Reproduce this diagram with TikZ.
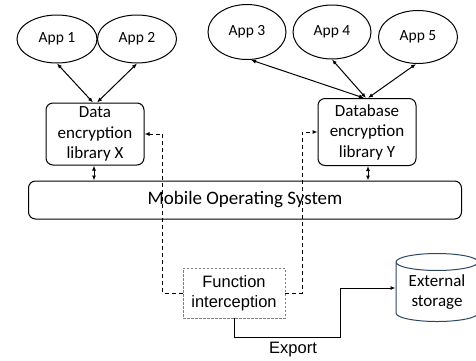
\documentclass[tikz,border=0pt]{standalone}
\usepackage{fontspec}
\setmainfont{Carlito}
\newfontfamily\arialfont{Liberation Sans}
\usepackage{xcolor}
\definecolor{storageblue}{RGB}{47, 70, 96}
\definecolor{hookgray}{RGB}{128, 128, 128}
\usetikzlibrary{shapes.geometric,calc,positioning,arrows.meta}

\begin{document}
\begin{tikzpicture}[x=1pt, y=-1pt, line width=1pt,
    app/.style={draw, ellipse, inner sep=0pt, font=\fontsize{15.5}{18}\selectfont},
    libbox/.style={draw, rectangle, rounded corners=7pt, align=center, inner sep=0pt,
        minimum width=98pt, font=\fontsize{17}{20.5}\selectfont},
    twoway/.style={{Latex[length=5pt,width=4pt]}-{Latex[length=5pt,width=4pt]}},
    hookline/.style={dashed, dash pattern=on 4pt off 3pt, -{Latex[length=5pt,width=4pt]}}]
    \useasboundingbox (0,0) rectangle (476,360);

    % Applications
    \node[app, minimum width=80pt, minimum height=48pt] (app1) at (57, 39) {App 1};
    \node[app, minimum width=79pt, minimum height=48pt] (app2) at (137, 39) {App 2};
    \node[app, minimum width=78pt, minimum height=55pt] (app3) at (247, 32) {App 3};
    \node[app, minimum width=78pt, minimum height=54pt] (app4) at (332, 32) {App 4};
    \node[app, minimum width=79pt, minimum height=53pt] (app5) at (418, 37) {App 5};

    % Encryption libraries
    \node[libbox, minimum height=62pt] (libX) at (95, 134) {Data\\encryption\\library X};
    \node[libbox, minimum height=67pt] (libY) at (367, 132) {Database\\encryption\\library Y};

    % Operating system
    \node[draw, rectangle, rounded corners=7pt, minimum width=433pt, minimum height=38pt,
        font=\fontsize{19}{22}\selectfont] (os) at (245, 200) {Mobile Operating System};

    % Hook and storage
    \node[draw=hookgray, dashed, dash pattern=on 2.5pt off 1.5pt, line width=0.7pt,
        minimum width=102pt, minimum height=50pt, align=center, inner sep=0pt,
        font=\arialfont\fontsize{16.5}{20}\selectfont] (hook) at (234, 293) {Function\\interception};
    \node[draw=storageblue, cylinder, shape border rotate=90, aspect=0.3, inner sep=0pt,
        minimum width=82pt, minimum height=68pt, align=center,
        font=\fontsize{17}{20.5}\selectfont] (storage) at (437, 292) {External\\storage};

    \draw[twoway] (app1.south) -- ([xshift=-2pt]libX.north);
    \draw[twoway] (app2.south) -- ([xshift=2pt]libX.north);
    \draw[twoway] ([xshift=4pt]app3.south) -- ([xshift=-3pt]libY.north);
    \draw[twoway] (app4.south) -- ([xshift=-1pt]libY.north);
    \draw[twoway] ([xshift=-2pt]app5.south) -- ([xshift=1pt]libY.north);

    \draw[twoway] ([xshift=-1pt]libX.south) -- ([xshift=-1pt]libX.south |- os.north);
    \draw[twoway] ([xshift=1pt]libY.south) -- ([xshift=1pt]libY.south |- os.north);

    \draw[hookline] (hook.west) -- ++(-20, 0) |- (libX.east);
    \draw[hookline] (hook.east) -- ++(17, 0) |- (libY.west);

    % Export path
    \coordinate (exportbend) at (340, 337);
    \draw[-{Latex[length=5pt,width=4pt]}] (hook.south) |- (exportbend) |- ([yshift=4pt]storage.west);
    \node[font=\arialfont\fontsize{16.5}{20}\selectfont] (exportlabel) at (293, 350) {Export};
\end{tikzpicture}
\end{document}
